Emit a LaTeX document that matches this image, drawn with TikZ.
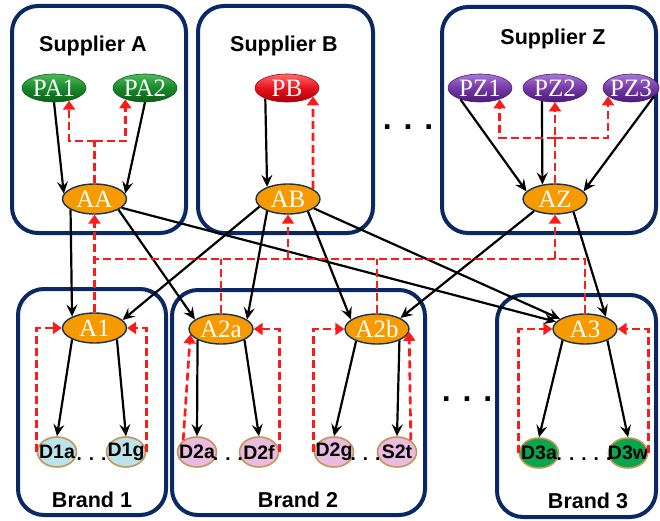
\documentclass[tikz,border=0pt]{standalone}
\usepackage{fontspec}
\setmainfont{Liberation Serif}
\setsansfont{Liberation Sans}
\usepackage{tikz}
\usetikzlibrary{shapes,arrows.meta,positioning,calc}

\definecolor{boxnavy}{HTML}{0A2864}
\definecolor{aorange}{HTML}{F79A00}
\definecolor{aedge}{HTML}{17334F}
\definecolor{dedge}{HTML}{C49558}
\definecolor{dcyan}{HTML}{BBE3E9}
\definecolor{dpink}{HTML}{E9BCDF}
\definecolor{dgreen}{HTML}{0AA64C}
\definecolor{fbred}{HTML}{FF1A1A}
\definecolor{pgtop}{HTML}{4DBA5A}
\definecolor{pgmid}{HTML}{17892A}
\definecolor{pgbot}{HTML}{0B5E16}
\definecolor{prtop}{HTML}{FF6A6A}
\definecolor{prmid}{HTML}{E8121C}
\definecolor{prbot}{HTML}{A80008}
\definecolor{pptop}{HTML}{A876D6}
\definecolor{ppmid}{HTML}{7439A6}
\definecolor{ppbot}{HTML}{4A1A78}

\begin{document}
\begin{tikzpicture}[x=1pt,y=-1pt]
  % Styles for the frames and the nodes inside them
  \tikzset{groupbox/.style={draw=boxnavy, line width=4pt, rounded corners=26pt}}
  \tikzset{grouptitle/.style={anchor=base, font=\sffamily\bfseries\fontsize{21.5}{24}\selectfont}}
  \tikzset{agent/.style={ellipse, draw=aedge, line width=1.4pt, fill=aorange, text=white, inner xsep=-6pt, inner ysep=-2pt, minimum width=64pt, minimum height=30pt, font=\fontsize{25}{26}\selectfont}}
  \tikzset{plant/.style={ellipse, line width=0.6pt, inner xsep=-6pt, inner ysep=-2pt, minimum width=64pt, minimum height=28pt, text=white, font=\fontsize{25}{26}\selectfont}}
  \tikzset{greenplant/.style={plant, draw=pgbot, top color=pgtop, bottom color=pgbot, middle color=pgmid}}
  \tikzset{redplant/.style={plant, draw=prbot, top color=prtop, bottom color=prbot, middle color=prmid}}
  \tikzset{purpleplant/.style={plant, draw=ppbot, top color=pptop, bottom color=ppbot, middle color=ppmid}}
  \tikzset{store/.style={ellipse, draw=dedge, line width=1.6pt, inner xsep=-8pt, inner ysep=0pt, minimum width=39pt, minimum height=30pt, font=\sffamily\bfseries\fontsize{19.5}{21}\selectfont}}
  \tikzset{flow/.style={-{Stealth[length=12pt,width=11pt,inset=4.5pt]}, line width=2.2pt}}
  \tikzset{fbline/.style={draw=fbred, line width=2.7pt, dash pattern=on 8pt off 4pt}}
  \tikzset{feedback/.style={fbline, -{Triangle[length=9pt,width=12pt]}}}
  \tikzset{gapdots/.style={anchor=base, font=\sffamily\bfseries\fontsize{19}{21}\selectfont}}
  \tikzset{bigdots/.style={anchor=base, font=\sffamily\bfseries\fontsize{32}{32}\selectfont}}

  \useasboundingbox (0,0) rectangle (660,521);

  % Suppliers
  \draw[groupbox] (12,6) rectangle (186,233);
  \node[grouptitle] (tSA) at (93,52) {Supplier A};
  \draw[groupbox] (198,6) rectangle (373,233);
  \node[grouptitle] (tSB) at (284,52) {Supplier B};
  \draw[groupbox] (442,7) rectangle (656,233);
  \node[grouptitle] (tSZ) at (553,45) {Supplier Z};
  \node[bigdots] (sdots) at (408,130) {. . .};

  % Brands
  \draw[groupbox] (18,289) rectangle (166,515);
  \node[grouptitle] (tB1) at (92,507) {Brand 1};
  \draw[groupbox] (172,290) rectangle (425,515);
  \node[grouptitle] (tB2) at (298,507) {Brand 2};
  \draw[groupbox] (497,295) rectangle (656,517);
  \node[grouptitle] (tB3) at (588,508) {Brand 3};
  \node[bigdots] (bdots) at (467,401) {. . .};

  % Plants
  \node[greenplant] (PA1) at (54,88) {PA1};
  \node[greenplant] (PA2) at (145,88) {PA2};
  \node[redplant] (PB) at (287,88) {PB};
  \node[purpleplant] (PZ1) at (480,88) {PZ1};
  \node[purpleplant] (PZ2) at (555,88) {PZ2};
  \node[purpleplant, minimum width=56pt] (PZ3) at (631,88) {PZ3};

  % Agents
  \node[agent] (AA) at (94.5,199) {AA};
  \node[agent] (AB) at (288,199) {AB};
  \node[agent] (AZ) at (555,199) {AZ};
  \node[agent] (A1) at (94.5,328) {A1};
  \node[agent] (A2a) at (221,329) {A2a};
  \node[agent] (A2b) at (377,329) {A2b};
  \node[agent] (A3) at (585,329) {A3};

  % Stores
  \node[store, fill=dcyan] (D1a) at (57,452) {D1a};
  \node[store, fill=dcyan] (D1g) at (126,452) {D1g};
  \node[gapdots] (g1) at (91.5,460) {. . .};
  \node[store, fill=dpink] (D2a) at (197,452) {D2a};
  \node[store, fill=dpink] (D2f) at (259,452) {D2f};
  \node[gapdots] (g2a) at (228,460) {. . .};
  \node[store, fill=dpink] (D2g) at (334,452) {D2g};
  \node[store, fill=dpink] (S2t) at (397,452) {S2t};
  \node[gapdots] (g2b) at (365.5,460) {. . .};
  \node[store, fill=dgreen] (D3a) at (539,453) {D3a};
  \node[store, fill=dgreen] (D3w) at (628,453) {D3w};
  \node[gapdots] (g3) at (584,460) {. . . . .};

  % Goods: plants to agents
  \draw[flow] (PA1.south) -- (AA.170);
  \draw[flow] (PA2.south) -- (AA.10);
  \draw[flow] (PB.-154) -- (AB.150);
  \draw[flow] (PZ1.-150) -- (AZ.165);
  \draw[flow] (PZ2.-135) -- (AZ.131);
  \draw[flow] (PZ3.-20) -- (AZ.15);

  % Goods: supplier agents to brand agents
  \draw[flow] (AA.-156) -- (A1.153);
  \draw[flow] (AA.-24) -- (A2a.160);
  \draw[flow] (AA.-18) -- (A3.166);
  \draw[flow] (AB.-165) -- (A1.16);
  \draw[flow] (AB.-150) -- (A2a.20);
  \draw[flow] (AB.-32) -- (A2b.160);
  \draw[flow] (AB.-20) -- (A3.158);
  \draw[flow] (AZ.-150) -- (A2b.25);
  \draw[flow] (AZ.-35) -- (A3.30);

  % Goods: brand agents to stores
  \draw[flow] (A1.-153) -- (D1a.north);
  \draw[flow] (A1.-27) -- (D1g.north);
  \draw[flow] (A2a.-155) -- (D2a.north);
  \draw[flow] (A2a.-25) -- (D2f.north);
  \draw[flow] (A2b.-150) -- (D2g.north);
  \draw[flow] (A2b.-27) -- (S2t.north);
  \draw[flow] (A3.-153) -- (D3a.north);
  \draw[flow] (A3.-27) -- (D3w.north);

  % Feedback inside the suppliers
  \coordinate (fbA) at (94.5,141);
  \draw[fbline] (AA.north) -- (fbA);
  \draw[feedback] (fbA) -| (PA1.-40);
  \draw[feedback] (fbA) -| (PA2.-150);
  \draw[feedback] (AB.22) -- (PB.-18);
  \coordinate (fbZ) at (555,138);
  \draw[feedback] (AZ.north) -- (PZ2.south);
  \draw[feedback] (fbZ) -| (PZ1.-30);
  \draw[feedback] (fbZ) -| (PZ3.-160);

  % Feedback from the brands up to the suppliers
  \coordinate (bus) at (94.5,259);
  \draw[feedback] (A1.north) -- (AA.south);
  \draw[fbline] (A3.north) |- (bus);
  \draw[fbline] (A2a.north) -- (A2a.north |- bus);
  \draw[fbline] (A2b.north) -- (A2b.north |- bus);
  \draw[feedback] (AB.south |- bus) -- (AB.south);
  \draw[feedback] (AZ.south |- bus) -- (AZ.south);

  % Feedback inside the brands
  \draw[feedback] (D1a.west) |- (A1.west);
  \draw[feedback] (D1g.east) |- (A1.east);
  \draw[feedback] (D2a.140) -- (A2a.190);
  \draw[feedback] (D2f.east) |- (A2a.east);
  \draw[feedback] (D2g.west) |- (A2b.west);
  \draw[feedback] (S2t.40) -- (A2b.-5);
  \draw[feedback] (D3a.west) |- (A3.west);
  \draw[feedback] (D3w.east) |- (A3.east);
\end{tikzpicture}
\end{document}
